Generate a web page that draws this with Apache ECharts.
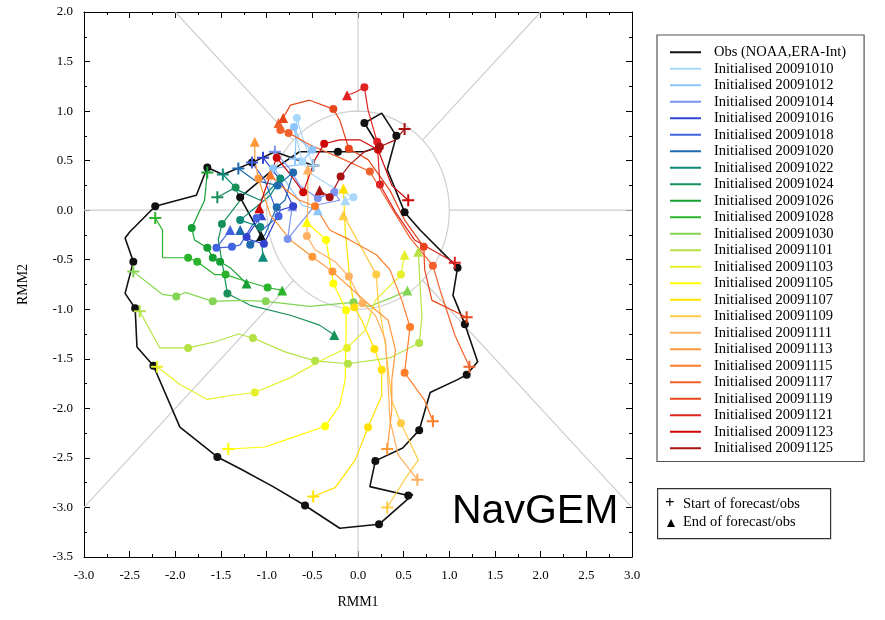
<!DOCTYPE html>
<html>
<head>
<meta charset="utf-8">
<script src="https://cdn.jsdelivr.net/npm/echarts@6/dist/echarts.min.js"></script>
<style>
html, body { margin: 0; padding: 0; background: #fff; }
#chart { width: 885px; height: 620px; }
</style>
</head>
<body>
<div id="chart"></div>
<script>
// names and colours of the tracks (legend order)
var names = ["Obs (NOAA,ERA-Int)",
  "Initialised 20091010", "Initialised 20091012", "Initialised 20091014", "Initialised 20091016",
  "Initialised 20091018", "Initialised 20091020", "Initialised 20091022", "Initialised 20091024",
  "Initialised 20091026", "Initialised 20091028", "Initialised 20091030", "Initialised 20091101",
  "Initialised 20091103", "Initialised 20091105", "Initialised 20091107", "Initialised 20091109",
  "Initialised 20091111", "Initialised 20091113", "Initialised 20091115", "Initialised 20091117",
  "Initialised 20091119", "Initialised 20091121", "Initialised 20091123", "Initialised 20091125"];
var colors = ["#111111",
  "#a9d8fb", "#8cc4fb", "#7b93ee", "#3342cf", "#4263df", "#1f6bb0", "#0d8a78", "#17905a",
  "#16a034", "#2cb32c", "#84d455", "#b4e245", "#e6f02a", "#ffff00", "#ffe100", "#ffcb45",
  "#ffb060", "#ff9838", "#ff7c2a", "#f2612c", "#e8451a", "#e02222", "#cf0606", "#a81212"];

// RMM1, RMM2, dot flag (first point = start "+", last point = end triangle)
var obs = [[-0.49,0.45,0],[-0.91,0.59,0],[-1.16,0.48,1],[-1.48,0.36,0],[-1.65,0.43,1],[-1.77,0.15,0],
  [-2.22,0.04,1],[-2.50,-0.22,0],[-2.55,-0.28,0],[-2.46,-0.52,1],[-2.55,-0.84,0],[-2.44,-0.99,1],
  [-2.42,-1.38,0],[-2.24,-1.57,1],[-1.95,-2.19,0],[-1.54,-2.49,1],[-1.29,-2.61,0],[-0.93,-2.79,0],
  [-0.58,-2.98,1],[-0.20,-3.21,0],[0.23,-3.17,1],[0.60,-2.87,0],[0.55,-2.88,1],[0.13,-2.79,0],
  [0.19,-2.53,1],[0.49,-2.40,0],[0.67,-2.22,1],[0.79,-1.84,0],[1.09,-1.71,0],[1.19,-1.66,1],
  [1.31,-1.53,0],[1.17,-1.15,1],[1.04,-0.86,0],[1.09,-0.58,1],[0.68,-0.20,0],[0.51,-0.02,1],
  [0.32,0.41,0],[0.42,0.75,1],[0.26,0.98,0],[0.07,0.88,1],[0.23,0.64,1],[0.07,0.59,0],
  [-0.22,0.59,1],[-0.64,0.59,0],[-0.93,0.41,0],[-1.29,0.13,1],[-1.06,-0.26]];
var f1010 = [[-0.49,0.45],[-0.60,0.71,0],[-0.67,0.93,1],[-0.68,0.76,0],[-0.61,0.49,1],[-0.50,0.36,0],[-0.31,0.25,0],[-0.05,0.13,1],[-0.14,0.10]];
var f1012 = [[-0.69,0.52],[-0.68,0.71,0],[-0.70,0.84,1],[-0.64,0.71,0],[-0.50,0.61,1],[-0.64,0.46,0],[-0.93,0.42,1],[-0.80,0.30,0],[-0.61,0.05,0],[-0.44,0.00]];
var f1014 = [[-0.91,0.59],[-0.74,0.41,0],[-0.64,0.25,0],[-0.44,0.12,1],[-0.26,0.18,1],[-0.20,0.10,0],[-0.47,0.05,0],[-0.77,-0.29,1],[-0.72,0.04]];
var f1016 = [[-1.04,0.53],[-0.85,0.30,0],[-0.71,0.04,1],[-0.85,0.00,0],[-1.03,-0.34,1],[-1.18,-0.30,0],[-1.22,-0.27,1],[-1.13,-0.15,0],[-1.06,-0.05]];
var f1018 = [[-1.16,0.48],[-1.02,0.30,0],[-0.87,-0.06,1],[-1.05,-0.20,0],[-1.11,-0.08,1],[-1.29,-0.35,0],[-1.38,-0.37,1],[-1.55,-0.38,1],[-1.40,-0.20]];
var f1020 = [[-1.31,0.42],[-1.13,0.30,0],[-0.88,0.25,1],[-0.71,0.38,1],[-0.80,0.10,0],[-0.89,0.03,1],[-1.02,-0.25,0],[-1.18,-0.35,1],[-1.29,-0.20]];
var f1022 = [[-1.48,0.36],[-1.31,0.20,0],[-1.07,0.10,0],[-0.85,0.32,1],[-0.96,0.15,0],[-1.29,-0.10,1],[-1.07,-0.17,1],[-1.04,-0.47]];
var f1024 = [[-1.54,0.13],[-1.34,0.23,1],[-1.29,0.10,0],[-1.49,-0.14,1],[-1.53,-0.30,0],[-1.43,-0.84,1],[-1.18,-0.96,0],[-0.74,-1.06,0],[-0.42,-1.16,0],[-0.26,-1.26]];
var f1026 = [[-1.65,0.38],[-1.68,0.10,0],[-1.82,-0.18,1],[-1.79,-0.30,0],[-1.65,-0.38,1],[-1.59,-0.48,1],[-1.51,-0.52,1],[-1.40,-0.58,0],[-1.22,-0.74]];
var f1028 = [[-2.22,-0.08],[-2.14,-0.20,0],[-2.14,-0.48,0],[-1.86,-0.48,1],[-1.76,-0.52,1],[-1.57,-0.65,0],[-1.45,-0.65,1],[-1.29,-0.70,0],[-0.99,-0.78,1],[-0.83,-0.81]];
var f1030 = [[-2.46,-0.62],[-2.14,-0.85,0],[-1.99,-0.87,1],[-1.89,-0.83,0],[-1.59,-0.92,1],[-1.29,-0.91,0],[-1.01,-0.92,1],[-0.53,-0.97,0],[-0.05,-0.93,1],[0.13,-0.97,0],[0.35,-0.89,0],[0.54,-0.81]];
var f1101 = [[-2.39,-1.02],[-2.17,-1.39,0],[-1.86,-1.39,1],[-1.57,-1.33,0],[-1.31,-1.25,0],[-1.15,-1.29,1],[-0.80,-1.43,0],[-0.47,-1.52,1],[-0.11,-1.55,1],[0.35,-1.49,0],[0.67,-1.34,1],[0.70,-1.08,0],[0.68,-0.76,0],[0.66,-0.42]];
var f1103 = [[-2.20,-1.58],[-1.95,-1.76,0],[-1.65,-1.91,0],[-1.40,-1.87,0],[-1.13,-1.84,1],[-0.74,-1.69,0],[-0.39,-1.51,0],[-0.12,-1.39,1],[0.08,-1.21,0],[0.19,-0.91,0],[0.47,-0.65,1],[0.51,-0.45]];
var f1105 = [[-1.42,-2.41],[-1.02,-2.39,0],[-0.80,-2.32,0],[-0.36,-2.18,1],[-0.20,-1.97,0],[-0.14,-1.71,0],[-0.13,-1.21,0],[-0.13,-1.01,1],[-0.27,-0.74,1],[-0.35,-0.30,1],[-0.47,-0.20,0],[-0.56,-0.12]];
var f1107 = [[-0.49,-2.89],[-0.25,-2.80,0],[-0.03,-2.52,0],[0.11,-2.19,1],[0.26,-1.87,0],[0.26,-1.61,1],[0.18,-1.40,1],[0.04,-1.11,0],[-0.04,-0.98,1],[-0.09,-0.70,0],[-0.14,-0.20,0],[-0.16,0.22]];
var f1109 = [[0.32,-3.00],[0.51,-2.72,0],[0.66,-2.52,0],[0.47,-2.15,1],[0.37,-1.92,0],[0.30,-1.36,0],[0.22,-0.91,0],[0.20,-0.65,1],[0.02,-0.35,0],[-0.16,-0.05]];
var f1111 = [[0.65,-2.72],[0.44,-2.47,0],[0.35,-2.12,0],[0.33,-1.76,0],[0.30,-1.31,0],[0.19,-1.06,0],[0.05,-0.94,1],[-0.10,-0.67,1],[-0.25,-0.52,0],[-0.47,-0.40,0],[-0.56,-0.26,1],[-0.55,0.05,0],[-0.55,0.41]];
var f1113 = [[0.32,-2.41],[0.37,-2.02,0],[0.37,-1.71,0],[0.41,-1.41,0],[0.33,-1.11,0],[0.13,-0.96,0],[-0.28,-0.62,1],[-0.50,-0.47,1],[-0.74,-0.30,0],[-0.96,-0.05,0],[-1.09,0.32,1],[-1.13,0.51,0],[-1.13,0.69]];
var f1115 = [[0.82,-2.13],[0.73,-1.92,0],[0.51,-1.64,1],[0.57,-1.18,1],[0.48,-0.91,0],[0.35,-0.60,0],[0.20,-0.45,0],[-0.09,-0.30,0],[-0.31,-0.20,0],[-0.47,0.04,1],[-0.64,0.10,0],[-0.85,0.25,0],[-0.96,0.36]];
var f1117 = [[1.22,-1.58],[1.06,-1.26,0],[0.90,-0.81,0],[0.82,-0.56,1],[0.57,-0.28,0],[0.35,0.05,0],[0.13,0.39,1],[-0.20,0.53,0],[-0.53,0.66,0],[-0.76,0.78,1],[-0.85,0.81,1],[-0.87,0.88]];
var f1119 = [[1.19,-1.08],[0.81,-0.91,0],[0.73,-0.60,0],[0.72,-0.37,1],[0.51,-0.10,0],[0.35,0.20,0],[0.11,0.51,0],[-0.10,0.62,1],[-0.20,0.91,0],[-0.27,1.02,1],[-0.53,1.11,0],[-0.74,1.06,0],[-0.82,0.93]];
var f1121 = [[1.06,-0.53],[0.62,-0.30,0],[0.41,-0.02,0],[0.24,0.26,1],[0.21,0.69,1],[0.11,1.01,0],[0.07,1.24,1],[-0.03,1.19,0],[-0.12,1.16]];
var f1123 = [[0.55,0.10],[0.37,0.25,0],[0.22,0.61,1],[0.02,0.71,0],[-0.20,0.71,0],[-0.37,0.67,1],[-0.47,0.51,0],[-0.60,0.18,1],[-0.74,0.36,0],[-0.89,0.53,1],[-1.02,0.20,0],[-1.08,0.02]];
var f1125 = [[0.51,0.82],[0.41,0.71,0],[0.24,0.64,1],[0.07,0.59,0],[-0.09,0.46,0],[-0.19,0.34,1],[-0.31,0.13,1],[-0.42,0.20]];

var tracks = [obs, f1010, f1012, f1014, f1016, f1018, f1020, f1022, f1024, f1026, f1028, f1030,
  f1101, f1103, f1105, f1107, f1109, f1111, f1113, f1115, f1117, f1119, f1121, f1123, f1125];

// axis ticks
var xMin = -3, xMax = 3, yMin = -3.5, yMax = 2, step = 0.5;

var PLUS = "path://M-1,-6H1V-1H6V1H1V6H-1V1H-6V-1H-1Z";
var serif = "'Liberation Serif', 'DejaVu Serif', serif";

function toData(track) {
  return track.map(function (p, i) {
    var sym = "none", size = 0;
    if (i === 0) { sym = PLUS; size = 12; }
    else if (i === track.length - 1) { sym = "triangle"; size = 10; }
    else if (p[2]) { sym = "circle"; size = 8; }
    return { value: [p[0], p[1]], symbol: sym, symbolSize: size };
  });
}

// phase-space guide lines (unit circle, axes and diagonals outside it)
var circle = [];
for (var a = 0; a <= 360; a += 5) {
  circle.push([Math.cos(a * Math.PI / 180), Math.sin(a * Math.PI / 180)]);
}
var r = Math.SQRT1_2;
var guides = [
  circle,
  [[0, 1], [0, yMax]], [[0, -1], [0, yMin]],
  [[xMin, 0], [-1, 0]], [[1, 0], [xMax, 0]],
  [[r, r], [2, 2]], [[-r, r], [-2, 2]],
  [[-r, -r], [-3, -3]], [[r, -r], [3, -3]]
];

var series = [];
guides.forEach(function (g, i) {
  series.push({
    name: "guide" + i, type: "line", data: g, silent: true, symbol: "none",
    lineStyle: { color: "#cfcfcf", width: 1.2 }, z: 1, animation: false
  });
});
tracks.forEach(function (t, i) {
  series.push({
    name: names[i], type: "line", data: toData(t),
    showSymbol: true, showAllSymbol: true,
    lineStyle: { color: colors[i], width: i === 0 ? 1.6 : 1.2 },
    itemStyle: { color: colors[i] },
    z: 2, animation: false
  });
});

var chart = echarts.init(document.getElementById("chart"));
var axisCommon = {
  type: "value",
  interval: step,
  axisLine: { show: true, onZero: false, lineStyle: { color: "#000", width: 1 } },
  axisTick: { show: true, inside: true, length: 6, lineStyle: { color: "#000" } },
  minorTick: { show: true, splitNumber: 2, length: 3, lineStyle: { color: "#000" } },
  splitLine: { show: false }
};
chart.setOption({
  backgroundColor: "#fff",
  grid: { left: 84, right: 253, top: 12, bottom: 63 },
  xAxis: [
    Object.assign({}, axisCommon, {
      min: xMin, max: xMax, position: "bottom",
      name: "RMM1", nameLocation: "middle", nameGap: 38,
      nameTextStyle: { fontFamily: serif, fontSize: 14, color: "#000" },
      axisLabel: { margin: 12, fontFamily: serif, fontSize: 13, color: "#000",
        formatter: function (v) { return v.toFixed(1); } }
    }),
    Object.assign({}, axisCommon, {
      min: xMin, max: xMax, position: "top", axisLabel: { show: false }
    })
  ],
  yAxis: [
    Object.assign({}, axisCommon, {
      min: yMin, max: yMax, position: "left",
      name: "RMM2", nameLocation: "middle", nameGap: 54,
      nameTextStyle: { fontFamily: serif, fontSize: 14, color: "#000" },
      axisLabel: { margin: 11, fontFamily: serif, fontSize: 13, color: "#000",
        formatter: function (v) { return v.toFixed(1); } }
    }),
    Object.assign({}, axisCommon, {
      min: yMin, max: yMax, position: "right", axisLabel: { show: false }
    })
  ],
  legend: {
    data: names, orient: "vertical", left: 657, top: 35,
    icon: "rect", itemWidth: 31, itemHeight: 2, itemGap: 0,
    selectedMode: false,
    padding: [9, 18, 5, 13],
    borderColor: "#555", borderWidth: 1.2,
    textStyle: { fontFamily: serif, fontSize: 14.5, lineHeight: 16.5, color: "#000", padding: [0, 0, 0, 8] }
  },
  graphic: [
    { type: "rect", left: 657, top: 488, shape: { width: 173, height: 50 },
      style: { fill: "#fff", stroke: "#333", lineWidth: 1.2 } },
    { type: "text", left: 665, top: 495, style: { text: "+", font: "bold 17px " + serif, fill: "#000" } },
    { type: "text", left: 683, top: 497, style: { text: "Start of forecast/obs", font: "14.5px " + serif, fill: "#000" } },
    { type: "polygon", shape: { points: [[667, 527], [675, 527], [671, 519]] }, style: { fill: "#000" } },
    { type: "text", left: 683, top: 515, style: { text: "End of forecast/obs", font: "14.5px " + serif, fill: "#000" } },
    { type: "text", left: 452, top: 491, style: { text: "NavGEM", font: "41px 'Liberation Sans', Arial, sans-serif", fill: "#000" } }
  ],
  series: series
});
</script>
</body>
</html>
